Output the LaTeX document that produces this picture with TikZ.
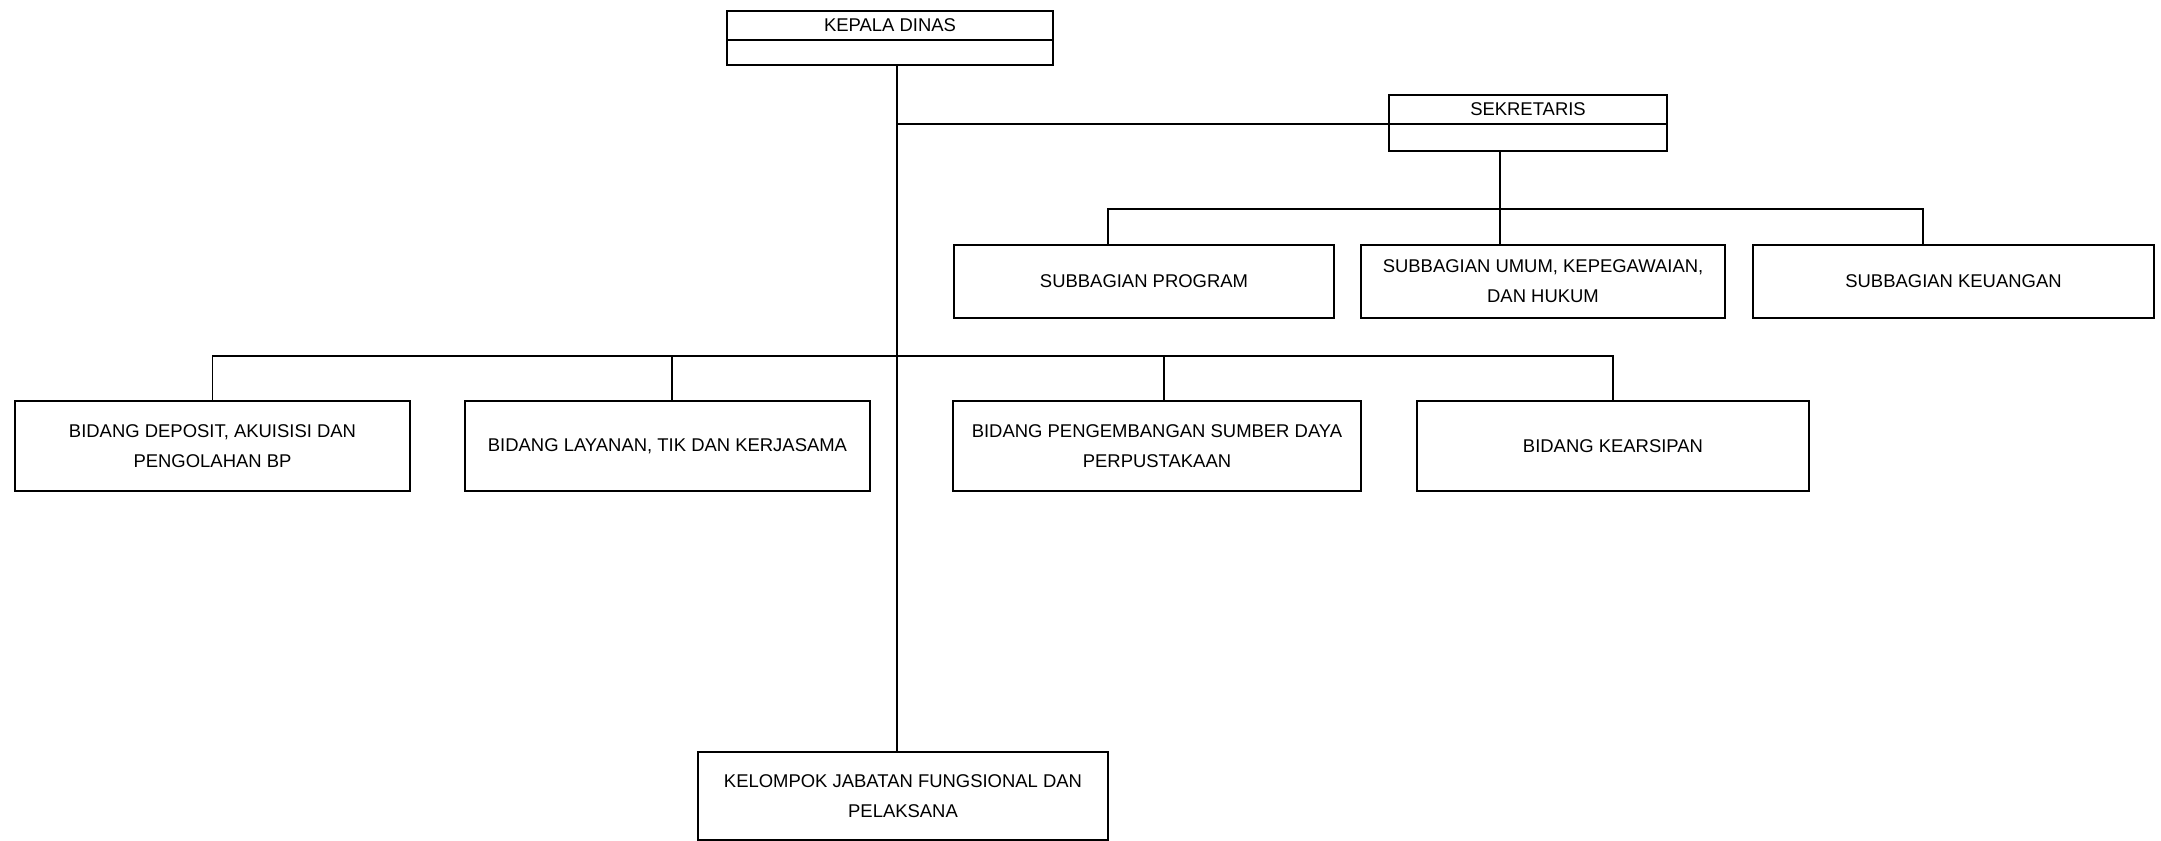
\documentclass[tikz,border=0pt]{standalone}
\usepackage{fontspec}
\setmainfont{Liberation Sans}
\usetikzlibrary{positioning,calc}

\begin{document}
\begin{tikzpicture}[x=0.02cm, y=-0.02cm,
				      every node/.style={align=center, inner sep=0pt, outer sep=0pt},
				      jabatan/.style={
						      draw, line width=1.2pt,
						      font=\fontsize{10.5}{17}\selectfont
					      },
				      kepala/.style={jabatan, minimum height=0.58cm},
				      subbag/.style={jabatan, minimum height=1.46cm},
				      bidang/.style={jabatan, minimum height=1.8cm},
				      garis/.style={line width=1.1pt}
			      ]
			      \useasboundingbox (0,0) rectangle (2161,841);

			      % pimpinan
			      \node[kepala, minimum width=6.52cm] (kadis) at (890,25.5) {KEPALA DINAS};
			      \node[jabatan, minimum width=6.52cm, minimum height=0.5cm, below=0pt of kadis] (kadisBawah) {};
			      \node[kepala, minimum width=5.56cm] (sekretaris) at (1528,109.5) {SEKRETARIS};
			      \node[jabatan, minimum width=5.56cm, minimum height=0.54cm, below=0pt of sekretaris] (sekBawah) {};

			      % subbagian
			      \node[subbag, minimum width=7.6cm] (subA) at (1144,281.5) {SUBBAGIAN PROGRAM};
			      \node[subbag, minimum width=7.28cm] (subB) at (1543,281.5) {SUBBAGIAN UMUM, KEPEGAWAIAN,\\DAN HUKUM};
			      \node[subbag, minimum width=8.02cm] (subC) at (1953.5,281.5) {SUBBAGIAN KEUANGAN};

			      % bidang
			      \node[bidang, minimum width=7.9cm] (bidA) at (212.5,446) {BIDANG DEPOSIT, AKUISISI DAN\\PENGOLAHAN BP};
			      \node[bidang, minimum width=8.1cm] (bidB) at (667.5,446) {BIDANG LAYANAN, TIK DAN KERJASAMA};
			      \node[bidang, minimum width=8.16cm] (bidC) at (1157,446) {BIDANG PENGEMBANGAN SUMBER DAYA\\PERPUSTAKAAN};
			      \node[bidang, minimum width=7.84cm] (bidD) at (1613,446) {BIDANG KEARSIPAN};

			      \node[jabatan, minimum width=8.2cm, minimum height=1.76cm] (kelompok) at (903,796) {KELOMPOK JABATAN FUNGSIONAL DAN\\PELAKSANA};

			      % titik bantu garis
			      \coordinate (tulang) at (897,0);
			      \coordinate (busSub) at (0,209);
			      \coordinate (busBid) at (0,356);
			      \coordinate (tSek) at (1500,0);
			      \coordinate (tSubA) at (1108,0);
			      \coordinate (tSubC) at (1923,0);
			      \coordinate (tBidB) at (672,0);
			      \coordinate (tBidC) at (1164,0);

			      \draw[garis] (kadisBawah.south -| tulang) -- (kelompok.north -| tulang);
			      \draw[garis] (tulang |- sekretaris.south) -- (sekretaris.south west);
			      \draw[garis] (sekBawah.south -| tSek) -- (subB.north -| tSek);
			      \draw[garis] (subA.north -| tSubA) |- (busSub -| tSubC) -- (subC.north -| tSubC);
			      \draw[garis] (bidA.north) |- (busBid -| bidD.north) -- (bidD.north);
			      \draw[garis] (busBid -| tBidB) -- (bidB.north -| tBidB);
			      \draw[garis] (busBid -| tBidC) -- (bidC.north -| tBidC);
		      \end{tikzpicture}
\end{document}
